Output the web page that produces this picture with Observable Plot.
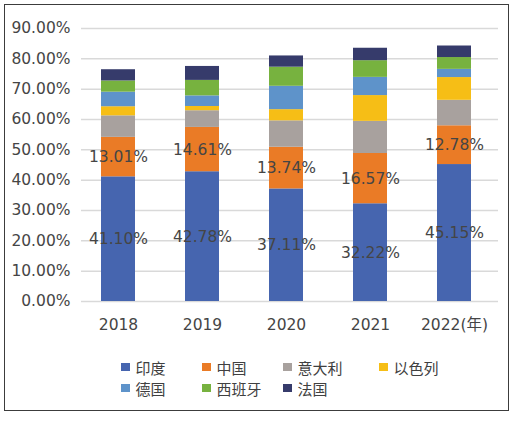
<!DOCTYPE html>
<html>
<head>
<meta charset="utf-8">
<script src="https://cdn.jsdelivr.net/npm/d3@7"></script>
<script src="https://cdn.jsdelivr.net/npm/@observablehq/plot@0.6"></script>
<style>
  html, body { margin: 0; padding: 0; background: #fff; }
  #wrap { position: relative; width: 531px; height: 421px; overflow: hidden; background: #fff; }
  #frame { position: absolute; left: 4px; top: 4px; width: 505px; height: 407px; border: 1.5px solid #3c3c3c; box-sizing: border-box; pointer-events: none; }
  #chart { position: absolute; left: 0; top: 0; }
  #legend { position: absolute; left: 0; top: 0; width: 531px; height: 421px; font-family: "Noto Sans CJK SC", "DejaVu Sans", sans-serif; font-size: 15px; color: #404040; }
  .item { position: absolute; display: flex; align-items: center; white-space: nowrap; }
  .sw { width: 8.5px; height: 8.5px; margin-right: 6px; }
</style>
</head>
<body>
<div id="wrap">
  <div id="chart"></div>
  <div id="legend"></div>
  <div id="frame"></div>
</div>
<script>
// Share of output by country, stacked per year (percent)
const years = ["2018", "2019", "2020", "2021", "2022"];
const yearLabels = ["2018", "2019", "2020", "2021", "2022(年)"];
const series = ["印度", "中国", "意大利", "以色列", "德国", "西班牙", "法国"];
const colors = ["#4665AF", "#EA7B26", "#A8A19E", "#F6BE16", "#5E93CA", "#77B23F", "#363B6B"];

const india   = [41.10, 42.78, 37.11, 32.22, 45.15];
const china   = [13.01, 14.61, 13.74, 16.57, 12.78];
const italy   = [7.1, 5.5, 8.7, 10.6, 8.4];
const israel  = [3.0, 1.4, 3.7, 8.5, 7.5];
const germany = [4.8, 3.5, 7.7, 6.0, 2.7];
const spain   = [3.7, 5.1, 6.3, 5.5, 3.9];
const france  = [3.7, 4.6, 3.7, 4.1, 3.8];

const yTicks = [0, 10, 20, 30, 40, 50, 60, 70, 80, 90];
const labelled = ["印度", "中国"];

const columns = [india, china, italy, israel, germany, spain, france];
const rows = [];
series.forEach((s, k) => {
  years.forEach((yr, i) => rows.push({year: yr, country: s, value: columns[k][i]}));
});

const numFont = "DejaVu Sans, Noto Sans CJK SC, sans-serif";
const textColor = "#454545";
const pct = d => d.toFixed(2) + "%";

const chart = Plot.plot({
  width: 531,
  height: 345,
  marginLeft: 74,
  marginRight: 33,
  marginTop: 28,
  marginBottom: 44,
  style: {fontFamily: numFont, fontSize: "15.5px", color: textColor, background: "transparent"},
  x: {domain: years, paddingInner: 0.6, paddingOuter: 0.3, label: null},
  y: {domain: [0, 90], label: null},
  color: {domain: series, range: colors},
  marks: [
    Plot.ruleY(yTicks, {stroke: "#d9d9d9", strokeWidth: 1.5, insetLeft: 7}),
    Plot.barY(rows, Plot.stackY({x: "year", y: "value", fill: "country", z: "country", order: series})),
    Plot.text(rows, Plot.stackY({
      filter: d => labelled.includes(d.country),
      x: "year", y: "value", z: "country", order: series,
      text: d => pct(d.value),
      fill: textColor, fontSize: 15.5
    })),
    Plot.axisY(yTicks, {tickSize: 0, tickPadding: 4, tickFormat: pct, fontSize: 15.5, fill: textColor}),
    Plot.axisX({tickSize: 0, tickPadding: 17, fontSize: 15.5, fill: textColor,
      tickFormat: d => yearLabels[years.indexOf(d)]})
  ]
});
document.getElementById("chart").appendChild(chart);

// Legend below the plot, two rows
const legendCols = [121, 202, 283, 379];
const legendRows = [367, 388];
const legend = document.getElementById("legend");
series.forEach((s, k) => {
  const item = document.createElement("div");
  item.className = "item";
  item.style.left = legendCols[k % 4] + "px";
  item.style.top = (legendRows[Math.floor(k / 4)] - 11) + "px";
  item.style.height = "22px";
  const sw = document.createElement("span");
  sw.className = "sw";
  sw.style.background = colors[k];
  const tx = document.createElement("span");
  tx.textContent = s;
  item.appendChild(sw);
  item.appendChild(tx);
  legend.appendChild(item);
});
</script>
</body>
</html>
